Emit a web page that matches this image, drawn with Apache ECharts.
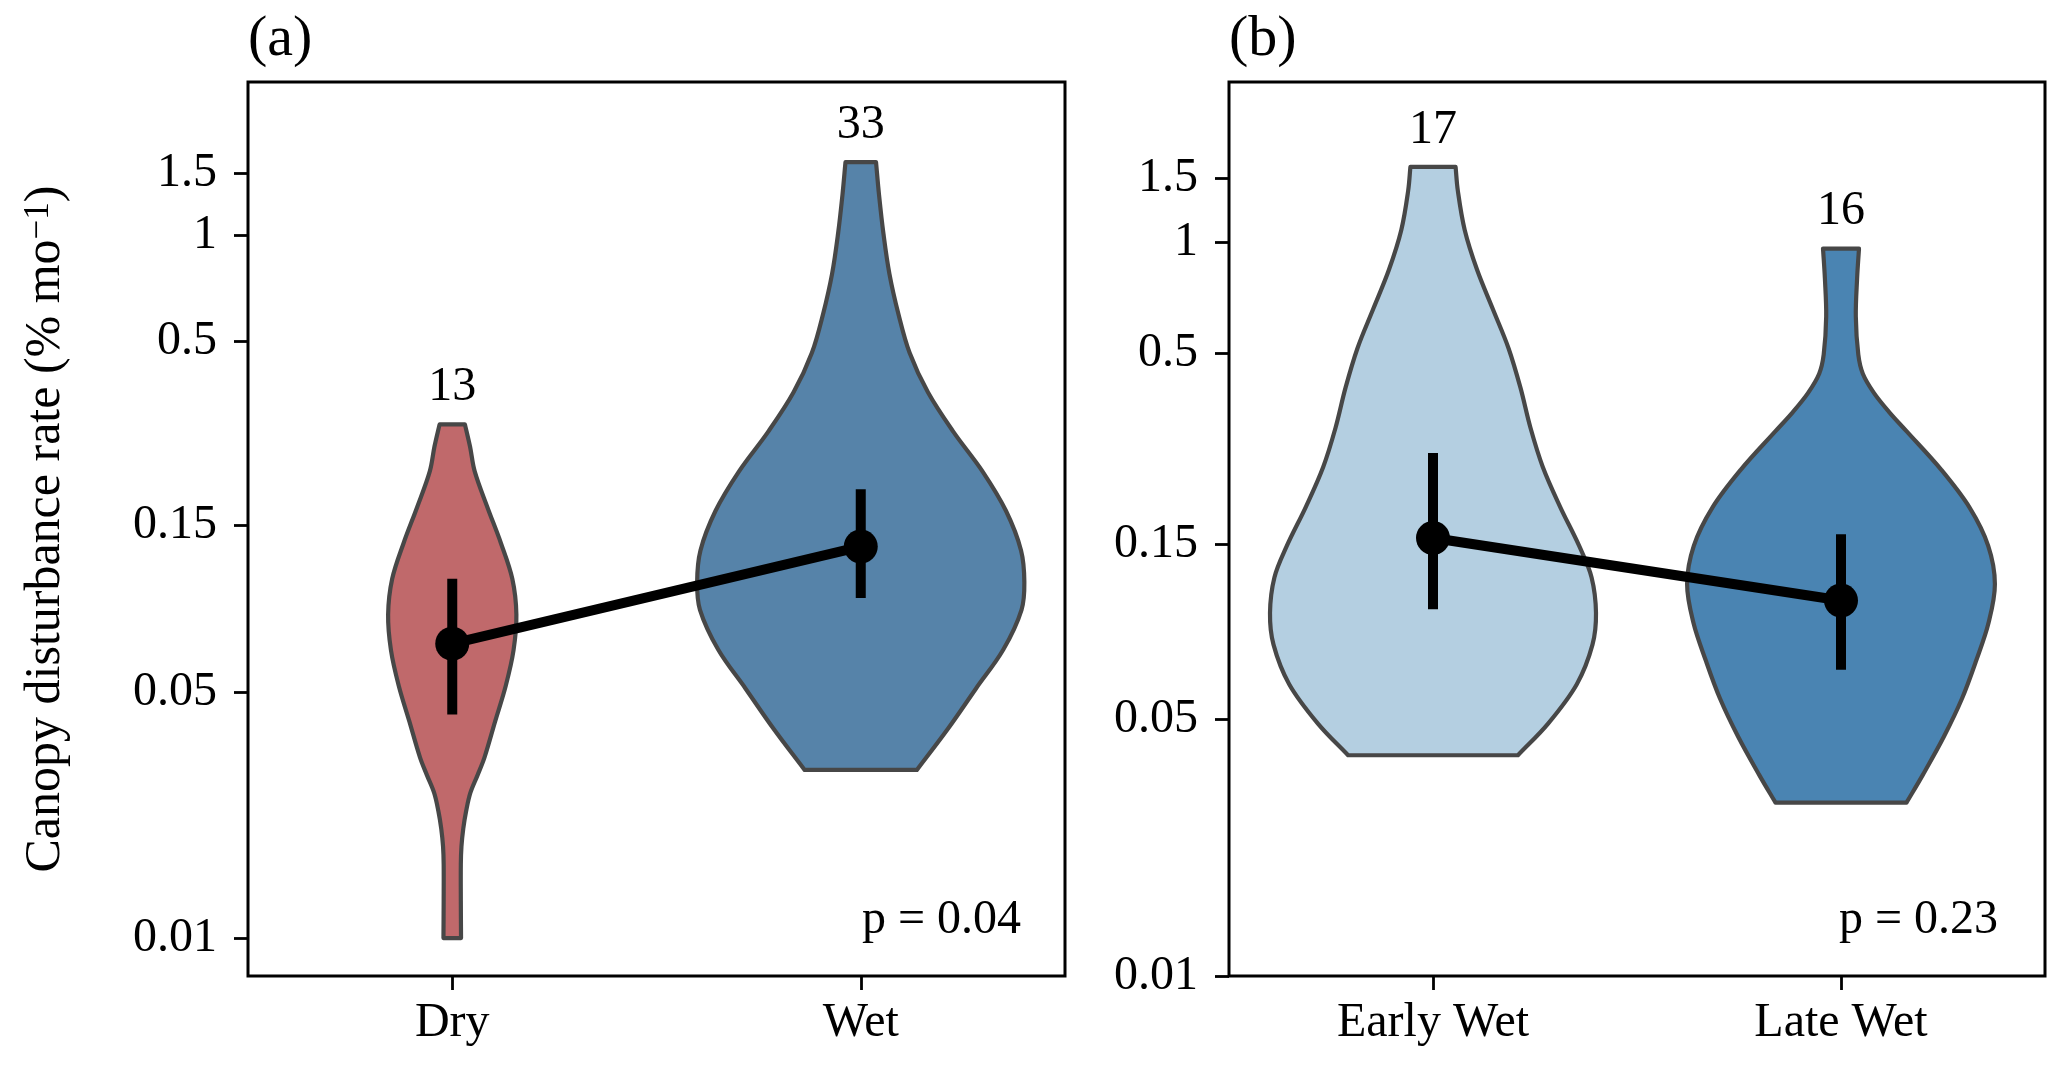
<!DOCTYPE html>
<html>
<head>
<meta charset="utf-8">
<script src="https://cdn.jsdelivr.net/npm/echarts@6.0.0/dist/echarts.min.js"></script>
<style>
html, body { margin: 0; padding: 0; background: #ffffff; }
#chart { width: 2067px; height: 1066px; }
</style>
</head>
<body>
<div id="chart"></div>
<script>
// ---------------- data ----------------
const categoriesA = ['Dry', 'Wet'];
const categoriesB = ['Early Wet', 'Late Wet'];
const panelLabels = ['(a)', '(b)'];
const yTitleMain = 'Canopy disturbance rate (% mo';
const yTitleSup = '\u22121';
const yTickValues = [0.01, 0.05, 0.15, 0.5, 1, 1.5];
const yTickLabels = ['0.01', '0.05', '0.15', '0.5', '1', '1.5'];
const yRangeA = [0.0078, 2.735];
const yRangeB = [0.01, 2.742];
const countsA = [13, 33];
const countsB = [17, 16];
const pValues = ['0.04', '0.23'];

const meansA = [0.0689, 0.1302];
const ciLowA = [0.0433, 0.0929];
const ciHighA = [0.1054, 0.1896];
const meansB = [0.1565, 0.1057];
const ciLowB = [0.1001, 0.0684];
const ciHighB = [0.2667, 0.1602];

// violin outlines: rate values (bottom -> top) and density half-widths (category units)
const dryRates  = [0.0100, 0.0128, 0.0162, 0.0182, 0.0205, 0.0230, 0.0259, 0.0291, 0.0327, 0.0414, 0.0523, 0.0660, 0.0834, 0.1054, 0.1333, 0.1685, 0.2130, 0.2508, 0.2900];
const dryWidths = [0.0215, 0.0210, 0.0210, 0.0225, 0.0270, 0.0340, 0.0443, 0.0620, 0.0790, 0.1050, 0.1310, 0.1500, 0.1570, 0.1470, 0.1190, 0.0860, 0.0550, 0.0435, 0.0310];

const wetRates  = [0.0301, 0.0395, 0.0512, 0.0663, 0.0860, 0.1031, 0.1269, 0.1643, 0.2131, 0.2760, 0.3578, 0.4636, 0.6000, 0.7780, 1.0090, 1.3070, 1.6170];
const wetWidths = [0.1374, 0.2139, 0.2814, 0.3491, 0.3936, 0.4005, 0.3924, 0.3557, 0.2980, 0.2269, 0.1645, 0.1196, 0.0919, 0.0702, 0.0557, 0.0447, 0.0374];

const earlyRates  = [0.0400, 0.0488, 0.0625, 0.0801, 0.0977, 0.1222, 0.1489, 0.1907, 0.2445, 0.3132, 0.4016, 0.5145, 0.6590, 0.8448, 1.0830, 1.3870, 1.6090];
const earlyWidths = [0.2081, 0.2821, 0.3525, 0.3909, 0.3995, 0.3887, 0.3583, 0.3113, 0.2691, 0.2387, 0.2145, 0.1853, 0.1466, 0.1078, 0.0777, 0.0608, 0.0554];

const lateRates  = [0.0297, 0.0353, 0.0449, 0.0571, 0.0726, 0.0922, 0.1173, 0.1490, 0.1894, 0.2408, 0.3061, 0.3451, 0.3892, 0.4389, 0.4950, 0.6287, 0.7995, 0.9636];
const lateWidths = [0.1605, 0.2002, 0.2520, 0.2966, 0.3316, 0.3620, 0.3772, 0.3608, 0.3152, 0.2449, 0.1605, 0.1180, 0.0806, 0.0535, 0.0424, 0.0363, 0.0395, 0.0441];

// ---------------- styles ----------------
const colorsA = ['#C0696B', '#5683A9'];
const colorsB = ['#B4CFE1', '#4A84B2'];
const SERIF = '"Liberation Serif", "Times New Roman", "DejaVu Serif", serif';
const FS = 48;

const L = Math.log10;
const tickPos = yTickValues.map(L);

function tickLabel(v) {
  const idx = tickPos.findIndex(t => Math.abs(t - v) < 1e-6);
  return idx >= 0 ? yTickLabels[idx] : '';
}

function makeGrid(left, width) {
  return { left: left, top: 82, width: width, height: 894, show: true,
           borderColor: '#000', borderWidth: 3, backgroundColor: 'transparent' };
}

function makeX(gi, cats) {
  return {
    gridIndex: gi, type: 'category', data: cats, boundaryGap: true, position: 'bottom',
    axisLine: { show: false, onZero: false },
    axisTick: { show: true, alignWithLabel: true, length: 14, lineStyle: { color: '#000', width: 2.8 } },
    axisLabel: { fontSize: FS, fontFamily: SERIF, color: '#000', margin: 23 },
    splitLine: { show: false }
  };
}

function makeY(gi, range) {
  return {
    gridIndex: gi, type: 'value', min: L(range[0]), max: L(range[1]), position: 'left',
    axisLine: { show: false, onZero: false },
    splitLine: { show: false },
    axisTick: { show: true, customValues: tickPos, length: 14, lineStyle: { color: '#000', width: 2.8 } },
    axisLabel: { customValues: tickPos, formatter: tickLabel, fontSize: FS, fontFamily: SERIF, color: '#000', margin: 31 }
  };
}

function violinSeries(gi, profiles, colors, counts) {
  return {
    type: 'custom', xAxisIndex: gi, yAxisIndex: gi, z: 2, silent: true,
    data: profiles.map((p, i) => [i, L(p.rates[p.rates.length - 1])]),
    renderItem: function (params, api) {
      const i = params.dataIndex;
      const p = profiles[i];
      const band = api.size([1, 0])[0];
      const right = [], left = [];
      for (let k = 0; k < p.rates.length; k++) {
        const c = api.coord([i, L(p.rates[k])]);
        const dx = p.widths[k] * band;
        right.push([c[0] + dx, c[1]]);
        left.push([c[0] - dx, c[1]]);
      }
      const n = right.length;
      const pts = [right[0], right[0].slice()];
      for (let k = 1; k < n - 1; k++) pts.push(right[k]);
      pts.push(right[n - 1], right[n - 1].slice(), left[n - 1], left[n - 1].slice());
      for (let k = n - 2; k >= 1; k--) pts.push(left[k]);
      pts.push(left[0], left[0].slice());
      const top = api.coord([i, L(p.rates[n - 1])]);
      return {
        type: 'group',
        children: [
          { type: 'polygon', shape: { points: pts, smooth: 0.35 },
            style: { fill: colors[i], stroke: '#474747', lineWidth: 4.2, lineJoin: 'round' } },
          { type: 'text',
            style: { text: String(counts[i]), x: top[0], y: top[1] - 13, align: 'center', verticalAlign: 'bottom',
                     textAlign: 'center', textVerticalAlign: 'bottom',
                     font: FS + 'px ' + SERIF, fill: '#000' } }
        ]
      };
    }
  };
}

function errorSeries(gi, lo, hi) {
  return {
    type: 'custom', xAxisIndex: gi, yAxisIndex: gi, z: 4, silent: true,
    data: lo.map((v, i) => [i, L(v)]),
    renderItem: function (params, api) {
      const i = params.dataIndex;
      const a = api.coord([i, L(lo[i])]);
      const b = api.coord([i, L(hi[i])]);
      return { type: 'line', shape: { x1: a[0], y1: a[1], x2: b[0], y2: b[1] },
               style: { stroke: '#000', lineWidth: 10, lineCap: 'butt' } };
    }
  };
}

function meanSeries(gi, means) {
  return {
    type: 'line', xAxisIndex: gi, yAxisIndex: gi, z: 5, silent: true,
    data: means.map(L), symbol: 'circle', symbolSize: 34, showSymbol: true,
    lineStyle: { color: '#000', width: 10 }, itemStyle: { color: '#000' }
  };
}

const profilesA = [{ rates: dryRates, widths: dryWidths }, { rates: wetRates, widths: wetWidths }];
const profilesB = [{ rates: earlyRates, widths: earlyWidths }, { rates: lateRates, widths: lateWidths }];

const chart = echarts.init(document.getElementById('chart'), null, { renderer: 'canvas' });
chart.setOption({
  animation: false,
  backgroundColor: '#ffffff',
  grid: [makeGrid(248, 817), makeGrid(1229, 816)],
  xAxis: [makeX(0, categoriesA), makeX(1, categoriesB)],
  yAxis: [makeY(0, yRangeA), makeY(1, yRangeB)],
  series: [
    violinSeries(0, profilesA, colorsA, countsA),
    violinSeries(1, profilesB, colorsB, countsB),
    errorSeries(0, ciLowA, ciHighA),
    errorSeries(1, ciLowB, ciHighB),
    meanSeries(0, meansA),
    meanSeries(1, meansB)
  ],
  graphic: [
    { type: 'text', x: 248, y: 40, silent: true,
      style: { text: panelLabels[0], font: '58px ' + SERIF, fill: '#000', align: 'left', verticalAlign: 'middle', textAlign: 'left', textVerticalAlign: 'middle' } },
    { type: 'text', x: 1229, y: 40, silent: true,
      style: { text: panelLabels[1], font: '58px ' + SERIF, fill: '#000', align: 'left', verticalAlign: 'middle', textAlign: 'left', textVerticalAlign: 'middle' } },
    { type: 'text', x: 1021, y: 920, silent: true,
      style: { text: 'p = ' + pValues[0], font: FS + 'px ' + SERIF, fill: '#000', align: 'right', verticalAlign: 'middle', textAlign: 'right', textVerticalAlign: 'middle' } },
    { type: 'text', x: 1998, y: 920, silent: true,
      style: { text: 'p = ' + pValues[1], font: FS + 'px ' + SERIF, fill: '#000', align: 'right', verticalAlign: 'middle', textAlign: 'right', textVerticalAlign: 'middle' } },
    { type: 'text', x: 46, y: 529, rotation: Math.PI / 2, silent: true,
      style: {
        text: '{a|' + yTitleMain + '}{s|' + yTitleSup + '}{a|)}',
        align: 'center', verticalAlign: 'middle', textAlign: 'center', textVerticalAlign: 'middle',
        fill: '#000',
        rich: {
          a: { fontSize: 50, fontFamily: SERIF, fill: '#000', color: '#000' },
          s: { fontSize: 35, fontFamily: SERIF, fill: '#000', color: '#000', verticalAlign: 'top' }
        }
      } }
  ]
});
</script>
</body>
</html>
